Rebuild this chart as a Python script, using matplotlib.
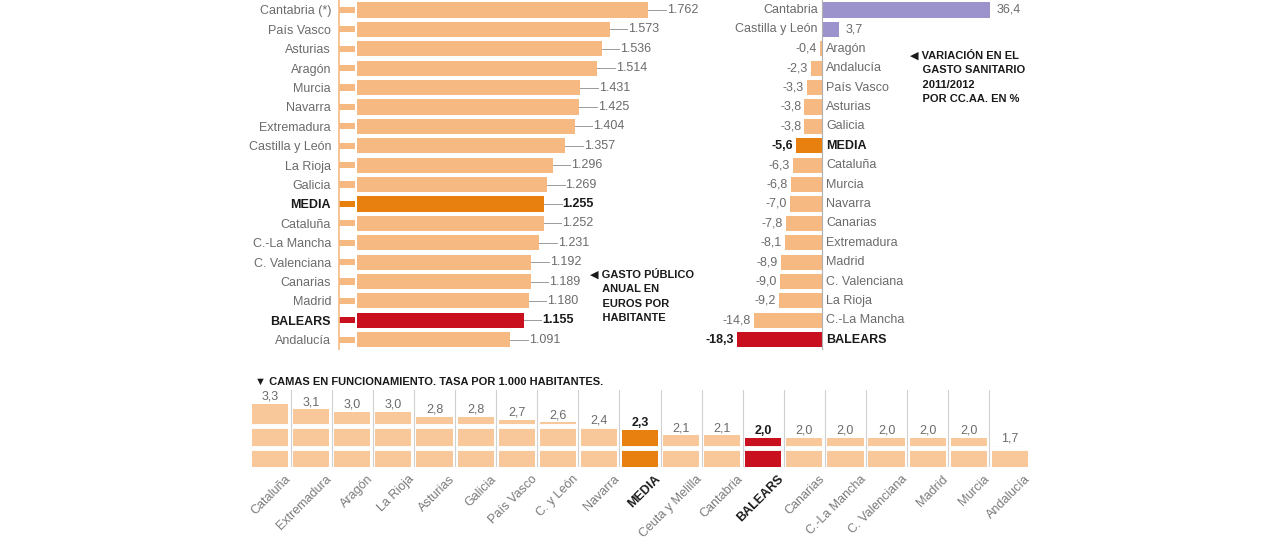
import matplotlib
matplotlib.use("Agg")
import matplotlib.pyplot as plt

plt.rcParams['font.family'] = ['Liberation Sans Narrow', 'Liberation Sans', 'DejaVu Sans']

# ---------------- data ----------------
gasto_regions = ["Cantabria (*)", "País Vasco", "Asturias", "Aragón", "Murcia", "Navarra",
                 "Extremadura", "Castilla y León", "La Rioja", "Galicia", "MEDIA", "Cataluña",
                 "C.-La Mancha", "C. Valenciana", "Canarias", "Madrid", "BALEARS", "Andalucía"]
gasto_values = [1762, 1573, 1536, 1514, 1431, 1425, 1404, 1357, 1296, 1269, 1255, 1252,
                1231, 1192, 1189, 1180, 1155, 1091]

var_regions = ["Cantabria", "Castilla y León", "Aragón", "Andalucía", "País Vasco", "Asturias",
               "Galicia", "MEDIA", "Cataluña", "Murcia", "Navarra", "Canarias", "Extremadura",
               "Madrid", "C. Valenciana", "La Rioja", "C.-La Mancha", "BALEARS"]
var_values = [36.4, 3.7, -0.4, -2.3, -3.3, -3.8, -3.8, -5.6, -6.3, -6.8, -7.0, -7.8, -8.1,
              -8.9, -9.0, -9.2, -14.8, -18.3]

camas_regions = ["Cataluña", "Extremadura", "Aragón", "La Rioja", "Asturias", "Galicia",
                 "País Vasco", "C. y León", "Navarra", "MEDIA", "Ceuta y Melilla", "Cantabria",
                 "BALEARS", "Canarias", "C.-La Mancha", "C. Valenciana", "Madrid", "Murcia",
                 "Andalucía"]
camas_values = [3.3, 3.1, 3.0, 3.0, 2.8, 2.8, 2.7, 2.6, 2.4, 2.3, 2.1, 2.1, 2.0, 2.0, 2.0,
                2.0, 2.0, 2.0, 1.7]

# ---------------- styles ----------------
LIGHT = '#F6B982'
LIGHT2 = '#F8C79A'
MEDIA_C = '#E8800F'
RED = '#C8101E'
PURPLE = '#9C93CC'
GRAY = '#6b6b6b'
DARK = '#1a1a1a'

W, H = 1280, 548
fig = plt.figure(figsize=(W / 100, H / 100), dpi=100)
fig.patch.set_facecolor('white')


def rect(x0, y0, x1, y1):
    return [x0 / W, 1 - y1 / H, (x1 - x0) / W, (y1 - y0) / H]


def color_for(name, base):
    if name == 'MEDIA':
        return MEDIA_C
    if name == 'BALEARS':
        return RED
    return base


def thousands(v):
    return f"{v:,}".replace(',', '.')


def dec(v):
    return f"{v:.1f}".replace('.', ',')


# ---------------- left panel: gasto ----------------
ax1 = fig.add_axes(rect(338, 0, 700, 350))
n = len(gasto_regions)
ax1.set_ylim(17.53, -0.515)
ax1.set_xlim(252.8, 2012.6)
ypos = list(range(n))
cols = [color_for(r, LIGHT) for r in gasto_regions]
main_start = 345
ax1.barh(ypos, [v - main_start for v in gasto_values], left=main_start, height=0.78,
         color=cols, edgecolor='none')
ax1.barh(ypos, [78] * n, left=256, height=0.32, color=cols, edgecolor='none')
ax1.axvline(256, color=LIGHT, lw=1.2)
for i, (r, v) in enumerate(zip(gasto_regions, gasto_values)):
    bold = r in ('MEDIA', 'BALEARS')
    ax1.plot([v, v + 85], [i, i], color='#9a9a9a', lw=0.7)
    ax1.text(v + 90, i, thousands(v), va='center', ha='left', fontsize=9,
             color=DARK if bold else GRAY, fontweight='bold' if bold else 'normal')
ax1.set_yticks(ypos)
ax1.set_yticklabels(gasto_regions, fontsize=9)
for lab in ax1.get_yticklabels():
    if lab.get_text() in ('MEDIA', 'BALEARS'):
        lab.set_fontweight('bold')
        lab.set_color(DARK)
    else:
        lab.set_color(GRAY)
ax1.tick_params(axis='y', length=0, pad=5)
ax1.set_xticks([])
for s in ax1.spines.values():
    s.set_visible(False)

fig.text(590 / W, 1 - 296 / H, "◀ GASTO PÚBLICO\n    ANUAL EN\n    EUROS POR\n    HABITANTE",
         fontsize=8, fontweight='bold', color=DARK, va='center', ha='left', linespacing=1.55)

# ---------------- right panel: variación ----------------
ax2 = fig.add_axes(rect(700, 0, 1040, 350))
ax2.set_ylim(17.53, -0.515)
ax2.set_xlim(-26.4, 47.2)
m = len(var_regions)
ypos2 = list(range(m))
cols2 = [color_for(r, PURPLE if v > 0 else LIGHT) for r, v in zip(var_regions, var_values)]
ax2.barh(ypos2, var_values, height=0.78, color=cols2, edgecolor='none')
ax2.axvline(0, color='#b0b0b0', lw=0.8)
for i, (r, v) in enumerate(zip(var_regions, var_values)):
    bold = r in ('MEDIA', 'BALEARS')
    fw = 'bold' if bold else 'normal'
    c = DARK if bold else GRAY
    if v > 0:
        ax2.text(-0.9, i, r, ha='right', va='center', fontsize=9, color=c, fontweight=fw)
        ax2.text(v + 1.5, i, dec(v), ha='left', va='center', fontsize=9, color=c, fontweight=fw)
    else:
        ax2.text(0.9, i, r, ha='left', va='center', fontsize=9, color=c, fontweight=fw)
        ax2.text(v - 0.7, i, dec(v), ha='right', va='center', fontsize=9, color=c, fontweight=fw)
ax2.set_xticks([])
ax2.set_yticks([])
for s in ax2.spines.values():
    s.set_visible(False)

fig.text(910 / W, 1 - 77 / H,
         "◀ VARIACIÓN EN EL\n    GASTO SANITARIO\n    2011/2012\n    POR CC.AA. EN %",
         fontsize=8, fontweight='bold', color=DARK, va='center', ha='left', linespacing=1.55)

# ---------------- bottom panel: camas ----------------
fig.text(255 / W, 1 - 382 / H, "▼ CAMAS EN FUNCIONAMIENTO. TASA POR 1.000 HABITANTES.",
         fontsize=8, fontweight='bold', color=DARK, va='center', ha='left')

ax3 = fig.add_axes(rect(250, 390, 1032, 467))
k = len(camas_regions)
xs = list(range(k))
ax3.set_xlim(-0.49, 18.54)
ax3.set_ylim(0.885, 3.846)
cols3 = [color_for(r, LIGHT2) for r in camas_regions]
ax3.bar(xs, camas_values, width=0.88, color=cols3, edgecolor='none')
for yy in (1.62, 2.45):
    ax3.axhline(yy, color='white', lw=3.5)
for i in range(k - 1):
    ax3.axvline(i + 0.5, color='#d0d0d0', lw=0.8)
for i, (r, v) in enumerate(zip(camas_regions, camas_values)):
    bold = r in ('MEDIA', 'BALEARS')
    ax3.text(i, v + 0.05, dec(v), ha='center', va='bottom', fontsize=9,
             color=DARK if bold else GRAY, fontweight='bold' if bold else 'normal')
    ax3.text(i + 0.35, -0.08, r, transform=ax3.get_xaxis_transform(), rotation=45,
             ha='right', va='top', rotation_mode='anchor', fontsize=9,
             color=DARK if bold else '#7a7a7a', fontweight='bold' if bold else 'normal')
ax3.set_xticks([])
ax3.set_yticks([])
for s in ax3.spines.values():
    s.set_visible(False)

fig.savefig('out.png', dpi=100, facecolor='white')
